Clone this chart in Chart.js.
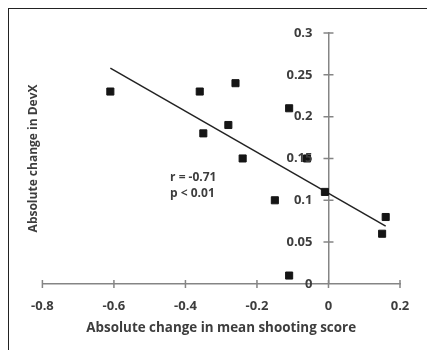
<!DOCTYPE html>
<html>
<head>
<meta charset="utf-8">
<script src="https://cdn.jsdelivr.net/npm/chart.js@4"></script>
<style>
  html, body { margin: 0; padding: 0; background: #fff; }
  #wrap { position: relative; width: 427px; height: 350px; overflow: hidden; }
  #frame { position: absolute; left: 8px; top: 8px; right: -10px; bottom: -10px;
           border-left: 1.5px solid #222; border-top: 1.5px solid #222; }
  canvas { position: absolute; left: 0; top: 0; }
</style>
</head>
<body>
<div id="wrap">
  <div id="frame"></div>
  <canvas id="chart" width="427" height="350"></canvas>
</div>
<script>
// change in mean shooting score vs change in DevX
const shootX = [-0.61, -0.36, -0.26, -0.35, -0.28, -0.24, -0.11, -0.06, -0.15, -0.01, -0.11, 0.15, 0.16];
const devY   = [0.23, 0.23, 0.24, 0.18, 0.19, 0.15, 0.21, 0.15, 0.10, 0.11, 0.01, 0.06, 0.08];

// regression line end points
const fitX = [-0.61, 0.16];
const fitY = [0.258, 0.069];

const statLines = ['r = -0.71', 'p < 0.01'];
const statPos = { x: -0.443, y: [0.127, 0.1075] };

const textColor = '#3d3d3d';
const axisColor = '#858585';
const font = 'Open Sans';

const fmt = v => String(+v.toFixed(2));

// axes cross at zero: tick marks go through the line, y labels sit left of it
const crossAxes = {
  id: 'crossAxes',
  afterDatasetsDraw(chart) {
    const { ctx, scales: { x, y } } = chart;
    const x0 = x.getPixelForValue(0);
    const y0 = y.getPixelForValue(0);
    ctx.save();
    ctx.strokeStyle = axisColor;
    ctx.lineWidth = 1.5;
    ctx.beginPath();
    x.ticks.forEach(t => {
      const px = x.getPixelForValue(t.value);
      ctx.moveTo(px, y0 - 4);
      ctx.lineTo(px, y0 + 4);
    });
    y.ticks.forEach(t => {
      if (t.value === 0) return;
      const py = y.getPixelForValue(t.value);
      ctx.moveTo(x0 - 5, py);
      ctx.lineTo(x0 + 5, py);
    });
    ctx.stroke();

    ctx.fillStyle = textColor;
    ctx.font = `bold 13px "${font}"`;
    ctx.textAlign = 'right';
    ctx.textBaseline = 'middle';
    y.ticks.forEach(t => {
      ctx.fillText(fmt(t.value), x0 - 16, y.getPixelForValue(t.value));
    });
    ctx.restore();
  }
};

const statText = {
  id: 'statText',
  afterDatasetsDraw(chart) {
    const { ctx, scales: { x, y } } = chart;
    ctx.save();
    ctx.fillStyle = textColor;
    ctx.font = `bold 12px "${font}"`;
    ctx.textAlign = 'left';
    ctx.textBaseline = 'middle';
    statLines.forEach((s, i) => {
      ctx.fillText(s, x.getPixelForValue(statPos.x), y.getPixelForValue(statPos.y[i]));
    });
    ctx.restore();
  }
};

new Chart(document.getElementById('chart'), {
  type: 'scatter',
  data: {
    datasets: [
      {
        label: 'data',
        data: shootX.map((v, i) => ({ x: v, y: devY[i] })),
        pointStyle: 'rect',
        pointRadius: 5,
        pointBorderWidth: 1,
        backgroundColor: '#151515',
        borderColor: '#151515',
        order: 1
      },
      {
        type: 'line',
        label: 'fit',
        data: fitX.map((v, i) => ({ x: v, y: fitY[i] })),
        borderColor: '#222',
        borderWidth: 1.5,
        pointRadius: 0,
        fill: false,
        order: 2
      }
    ]
  },
  options: {
    responsive: false,
    animation: false,
    layout: { padding: { left: 10, right: 27, top: 33, bottom: 8 } },
    plugins: { legend: { display: false }, tooltip: { enabled: false } },
    scales: {
      x: {
        type: 'linear',
        min: -0.8, max: 0.2,
        position: { y: 0 },
        grid: { display: false },
        border: { display: true, color: axisColor, width: 1.5 },
        ticks: { stepSize: 0.2, padding: 7, color: textColor, callback: fmt,
                 font: { family: font, size: 13, weight: 'bold' } }
      },
      y: {
        min: 0, max: 0.3,
        position: { x: 0 },
        grid: { display: false },
        border: { display: true, color: axisColor, width: 1.5 },
        ticks: { stepSize: 0.05, display: false }
      },
      xTitle: {
        type: 'linear',
        position: 'bottom',
        grid: { display: false, drawTicks: false },
        border: { display: false },
        ticks: { display: false },
        title: {
          display: true,
          text: 'Absolute change in mean shooting score',
          color: textColor,
          font: { family: font, size: 13.4, weight: 'bold' },
          padding: { top: 36, bottom: 6 }
        }
      },
      yTitle: {
        type: 'linear',
        position: 'left',
        grid: { display: false, drawTicks: false },
        border: { display: false },
        ticks: { display: false },
        title: {
          display: true,
          text: 'Absolute change in DevX',
          color: textColor,
          font: { family: font, size: 12, weight: 'bold' },
          padding: { top: 16, bottom: 2 }
        }
      }
    }
  },
  plugins: [crossAxes, statText]
});
</script>
</body>
</html>
